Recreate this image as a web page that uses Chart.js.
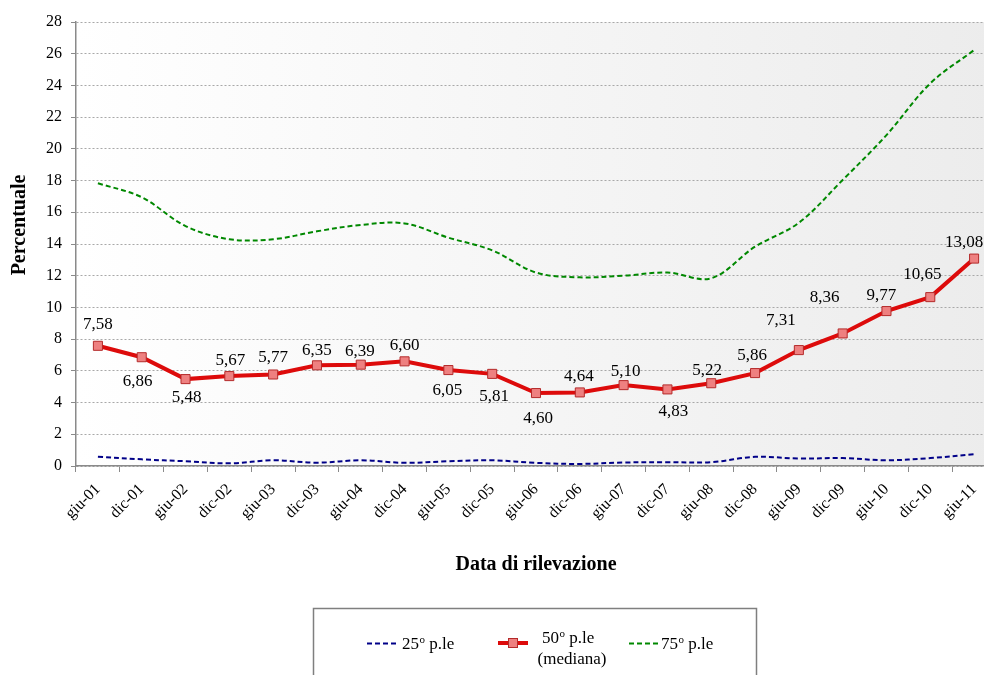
<!DOCTYPE html>
<html lang="it">
<head>
<meta charset="utf-8">
<script src="https://cdn.jsdelivr.net/npm/chart.js@4.4.1/dist/chart.umd.min.js"></script>
<style>
  html, body { margin: 0; padding: 0; background: #fff; overflow: hidden; width: 984px; height: 675px; }
  #wrap { position: absolute; left: 0; top: 0; width: 1010px; height: 675px; }
</style>
</head>
<body>
<div id="wrap"><canvas id="chart"></canvas></div>
<script>
// Survey dates (June / December)
const categories = ['giu-01','dic-01','giu-02','dic-02','giu-03','dic-03','giu-04','dic-04',
  'giu-05','dic-05','giu-06','dic-06','giu-07','dic-07','giu-08','dic-08','giu-09','dic-09',
  'giu-10','dic-10','giu-11'];

// 25th percentile
const p25 = [0.59, 0.42, 0.30, 0.17, 0.36, 0.21, 0.36, 0.20, 0.30, 0.36, 0.20, 0.13,
  0.22, 0.24, 0.24, 0.58, 0.47, 0.50, 0.36, 0.50, 0.75];

// 50th percentile (median)
const p50 = [7.58, 6.86, 5.48, 5.67, 5.77, 6.35, 6.39, 6.60, 6.05, 5.81, 4.60, 4.64,
  5.10, 4.83, 5.22, 5.86, 7.31, 8.36, 9.77, 10.65, 13.08];

// 75th percentile
const p75 = [17.83, 16.95, 15.13, 14.30, 14.30, 14.80, 15.20, 15.30, 14.40, 13.60, 12.20, 11.90,
  12.00, 12.20, 11.84, 13.83, 15.34, 18.04, 20.87, 24.13, 26.23];

// Value axis ticks
const yTickValues = [0, 2, 4, 6, 8, 10, 12, 14, 16, 18, 20, 22, 24, 26, 28];

const seriesNames = ['25º p.le', '50º p.le', '75º p.le'];
const medianNote = '(mediana)';
const axisTitleX = 'Data di rilevazione';
const axisTitleY = 'Percentuale';

// Where each median label sits relative to its marker (dx, dy of the text centre)
const labelNudge = [[0,-21],[-4,24],[1,18],[1,-16],[0,-17],[0,-15],[-1,-13],[0,-16],
  [-1,20],[2,23],[2,25],[-1,-16],[2,-14],[6,22],[-4,-13],[-3,-18],[-18,-30],[-18,-36],
  [-5,-16],[-8,-23],[-10,-16]];

const SERIF = '"Liberation Serif", "Times New Roman", serif';

const plotBackground = {
  id: 'plotBackground',
  beforeDraw(chart) {
    const { ctx, chartArea: a } = chart;
    const g = ctx.createLinearGradient(a.left, 0, a.right, 0);
    g.addColorStop(0, '#ffffff');
    g.addColorStop(1, '#ececec');
    ctx.save();
    ctx.fillStyle = g;
    ctx.fillRect(a.left, a.top, a.right - a.left, a.bottom - a.top);
    ctx.restore();
  }
};

const yTitle = {
  id: 'yTitle',
  afterDraw(chart) {
    const ctx = chart.ctx;
    ctx.save();
    ctx.translate(20, 225);
    ctx.rotate(-Math.PI / 2);
    ctx.font = 'bold 20px ' + SERIF;
    ctx.fillStyle = '#000';
    ctx.textAlign = 'center';
    ctx.textBaseline = 'middle';
    ctx.fillText(axisTitleY, 0, 0);
    ctx.restore();
  }
};

const medianLabels = {
  id: 'medianLabels',
  afterDatasetsDraw(chart) {
    const ctx = chart.ctx;
    const meta = chart.getDatasetMeta(1);
    ctx.save();
    ctx.font = '17px ' + SERIF;
    ctx.fillStyle = '#000';
    ctx.textAlign = 'center';
    ctx.textBaseline = 'middle';
    meta.data.forEach((pt, i) => {
      const txt = p50[i].toFixed(2).replace('.', ',');
      const [dx, dy] = labelNudge[i];
      ctx.fillText(txt, pt.x + dx, pt.y + dy);
    });
    ctx.restore();
  }
};

function drawOrdinalText(ctx, text, x, baseline) {
  const parts = text.split('º');
  ctx.font = '17px ' + SERIF;
  ctx.fillText(parts[0], x, baseline);
  let cx = x + ctx.measureText(parts[0]).width;
  if (parts.length > 1) {
    ctx.font = '11px ' + SERIF;
    ctx.fillText('o', cx + 0.5, baseline - 6);
    cx += ctx.measureText('o').width + 0.5;
    ctx.font = '17px ' + SERIF;
    ctx.fillText(parts[1], cx, baseline);
    cx += ctx.measureText(parts[1]).width;
  }
  return cx;
}

const boxLegend = {
  id: 'boxLegend',
  afterDraw(chart) {
    const ctx = chart.ctx;
    const ds = chart.data.datasets;
    ctx.save();
    ctx.strokeStyle = '#7f7f7f';
    ctx.lineWidth = 1.5;
    ctx.strokeRect(313.5, 608.5, 443, 100);

    ctx.fillStyle = '#000';
    ctx.textAlign = 'left';
    ctx.textBaseline = 'alphabetic';

    const sample = (d, x0, x1, y) => {
      ctx.save();
      ctx.strokeStyle = d.borderColor;
      ctx.lineWidth = d.borderWidth;
      ctx.setLineDash(d.borderDash || []);
      ctx.beginPath();
      ctx.moveTo(x0, y);
      ctx.lineTo(x1, y);
      ctx.stroke();
      ctx.restore();
    };

    // 25th
    sample(ds[0], 367, 397, 643.5);
    drawOrdinalText(ctx, ds[0].label, 402, 649);

    // median
    sample(ds[1], 498, 528, 643);
    ctx.save();
    ctx.fillStyle = ds[1].pointBackgroundColor;
    ctx.strokeStyle = ds[1].pointBorderColor;
    ctx.lineWidth = 1;
    ctx.fillRect(508.5, 638.5, 9, 9);
    ctx.strokeRect(508.5, 638.5, 9, 9);
    ctx.restore();
    ctx.fillStyle = '#000';
    drawOrdinalText(ctx, ds[1].label, 542, 643);
    ctx.font = '17px ' + SERIF;
    ctx.textAlign = 'center';
    ctx.fillText(medianNote, 572, 664);
    ctx.textAlign = 'left';

    // 75th
    sample(ds[2], 629, 660, 643.5);
    drawOrdinalText(ctx, ds[2].label, 661, 649);
    ctx.restore();
  }
};

new Chart(document.getElementById('chart'), {
  type: 'line',
  data: {
    labels: categories,
    datasets: [
      {
        label: seriesNames[0],
        data: p25,
        borderColor: '#000088',
        borderWidth: 2,
        borderDash: [5, 3],
        tension: 0.35,
        pointRadius: 0,
        fill: false
      },
      {
        label: seriesNames[1],
        data: p50,
        borderColor: '#DD0B0B',
        borderWidth: 4,
        tension: 0,
        pointStyle: 'rect',
        pointRadius: 6.4,
        pointBackgroundColor: '#EE8080',
        pointBorderColor: '#B42A2A',
        pointBorderWidth: 1,
        fill: false
      },
      {
        label: seriesNames[2],
        data: p75,
        borderColor: '#008800',
        borderWidth: 2,
        borderDash: [5, 3],
        tension: 0.35,
        pointRadius: 0,
        fill: false
      }
    ]
  },
  options: {
    responsive: true,
    maintainAspectRatio: false,
    animation: false,
    events: [],
    layout: { padding: { left: 0, top: 22, right: 14, bottom: 98 } },
    plugins: {
      legend: { display: false },
      tooltip: { enabled: false }
    },
    scales: {
      x: {
        type: 'category',
        offset: true,
        grid: {
          offset: true,
          drawOnChartArea: false,
          drawTicks: true,
          tickLength: 6,
          tickColor: '#8a8a8a',
          lineWidth: 1
        },
        border: { display: true, color: '#8a8a8a', width: 1.5 },
        ticks: {
          autoSkip: false,
          maxRotation: 45,
          minRotation: 45,
          padding: 8,
          color: '#000',
          font: { family: SERIF, size: 16 }
        },
        title: {
          display: true,
          text: axisTitleX,
          color: '#000',
          font: { family: SERIF, size: 20, weight: 'bold' },
          padding: { top: 0, bottom: 0 }
        },
        afterFit(scale) { scale.height = 111; }
      },
      y: {
        min: 0,
        max: 28,
        afterBuildTicks(scale) { scale.ticks = yTickValues.map(v => ({ value: v })); },
        grid: {
          color: '#a8a8a8',
          lineWidth: 1,
          drawTicks: true,
          tickLength: 5,
          tickColor: '#8a8a8a',
          tickBorderDash: []
        },
        border: { display: true, color: '#8a8a8a', width: 1.5, dash: [2, 2] },
        ticks: {
          padding: 9,
          color: '#000',
          font: { family: SERIF, size: 16 }
        },
        afterFit(scale) { scale.width = 76; }
      }
    }
  },
  plugins: [plotBackground, medianLabels, yTitle, boxLegend]
});
</script>
</body>
</html>
